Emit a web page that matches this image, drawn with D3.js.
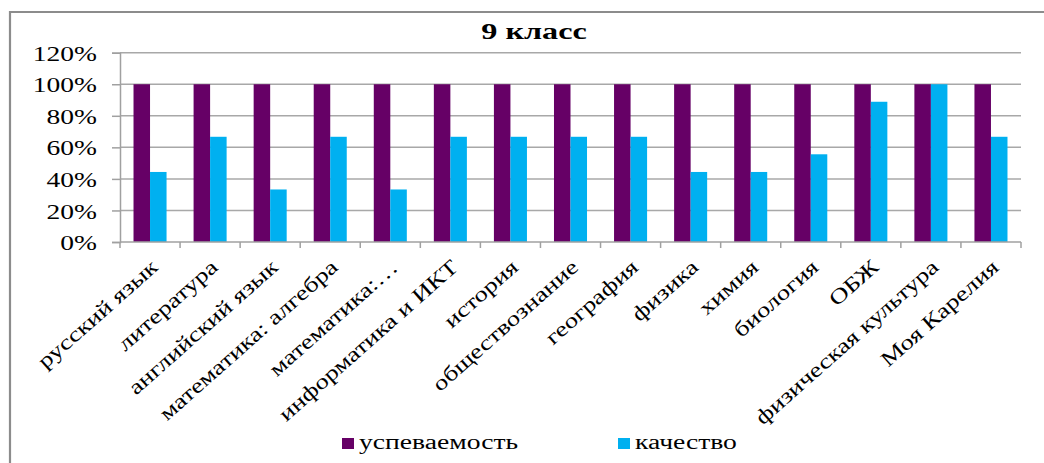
<!DOCTYPE html>
<html><head><meta charset="utf-8">
<script src="https://cdn.jsdelivr.net/npm/d3@7"></script>
<style>
html,body{margin:0;padding:0;background:#fff;}
text{font-family:"Liberation Serif","Times New Roman",serif;fill:#000;}
</style></head>
<body>
<svg id="chart" width="1044" height="463"></svg>
<script>
const categories = ["русский язык","литература","английский язык","математика: алгебра","математика:…","информатика и ИКТ","история","обществознание","география","физика","химия","биология","ОБЖ","физическая культура","Моя Карелия"];
const seriesNames = ["успеваемость","качество"];
const uspev = [1,1,1,1,1,1,1,1,1,1,1,1,1,1,1];
const kachestvo = [0.444,0.667,0.333,0.667,0.333,0.667,0.667,0.667,0.667,0.444,0.444,0.556,0.889,1,0.667];
const yTicks = [0,0.2,0.4,0.6,0.8,1.0,1.2];
const title = "9 класс";
const colors = ["#660066","#00b0f0"];

function stretch(sel, f){
  sel.each(function(){
    const l = this.getComputedTextLength();
    d3.select(this).attr("textLength", l*f).attr("lengthAdjust","spacingAndGlyphs");
  });
}

const svg = d3.select("#chart");
const pLeft = 120, pRight = 1021, pTop = 52.7, pBottom = 242;

// outer border
svg.append("path").attr("d","M10,463 L10,12 L1044,12").attr("fill","none").attr("stroke","#8c8c8c").attr("stroke-width",2.2);

const x0 = d3.scaleBand().domain(categories).range([pLeft,pRight]).paddingInner(0.45).paddingOuter(0.225);
const x1 = d3.scaleBand().domain(seriesNames).range([0,x0.bandwidth()]);
const y = d3.scaleLinear().domain([0,1.2]).range([pBottom,pTop]);

// gridlines
svg.append("g").selectAll("line").data(yTicks.filter(d=>d>0)).join("line")
  .attr("x1",pLeft).attr("x2",pRight).attr("y1",d=>y(d)).attr("y2",d=>y(d))
  .attr("stroke","#a8a8a8").attr("stroke-width",1.5);

// y axis
const yAxis = svg.append("g").attr("transform",`translate(${pLeft},0)`)
  .call(d3.axisLeft(y).tickValues(yTicks).tickFormat(d=>Math.round(d*100)+"%").tickSize(8).tickPadding(15));
yAxis.select(".domain").attr("stroke","#a0a0a0").attr("stroke-width",1.5);
yAxis.selectAll(".tick line").attr("stroke","#a0a0a0").attr("stroke-width",1.5);
yAxis.selectAll(".tick text").attr("font-size",21).attr("font-family","Liberation Serif").attr("dy","0.36em").attr("fill","#000");
stretch(yAxis.selectAll(".tick text"),1.31);

// bars
const data = categories.map((c,i)=>({cat:c, vals:[uspev[i],kachestvo[i]]}));
const groups = svg.append("g").selectAll("g").data(data).join("g")
  .attr("transform",d=>`translate(${x0(d.cat)},0)`);
groups.selectAll("rect").data(d=>d.vals.map((v,j)=>({s:seriesNames[j],v,j}))).join("rect")
  .attr("x",d=>x1(d.s)).attr("width",x1.bandwidth())
  .attr("y",d=>y(d.v)).attr("height",d=>pBottom-y(d.v))
  .attr("fill",d=>colors[d.j]);

// x axis line and ticks
const step = x0.step();
svg.append("line").attr("x1",pLeft).attr("x2",pRight).attr("y1",pBottom).attr("y2",pBottom).attr("stroke","#a0a0a0").attr("stroke-width",1.5);
svg.append("g").selectAll("line").data(d3.range(categories.length+1)).join("line")
  .attr("x1",i=>pLeft+i*step).attr("x2",i=>pLeft+i*step).attr("y1",pBottom).attr("y2",pBottom+6)
  .attr("stroke","#a0a0a0").attr("stroke-width",1.5);

// category labels
const lab = svg.append("g").selectAll("text").data(categories).join("text")
  .attr("transform",d=>`translate(${x0(d)+x0.bandwidth()/2+9},${pBottom+27}) rotate(-41.5)`)
  .attr("text-anchor","end").attr("font-size",21).text(d=>d);
stretch(lab,1.27);

// title
const t = svg.append("text").attr("x",534).attr("y",39).attr("text-anchor","middle")
  .attr("font-size",23).attr("font-weight","bold").text(title);
stretch(t,1.4);

// legend
const legX = [342,618];
seriesNames.forEach((s,i)=>{
  svg.append("rect").attr("x",legX[i]).attr("y",438).attr("width",12).attr("height",11).attr("fill",colors[i]);
  const lt = svg.append("text").attr("x",legX[i]+17).attr("y",449).attr("font-size",20).text(s);
  stretch(lt,1.38);
});
</script>
</body></html>
